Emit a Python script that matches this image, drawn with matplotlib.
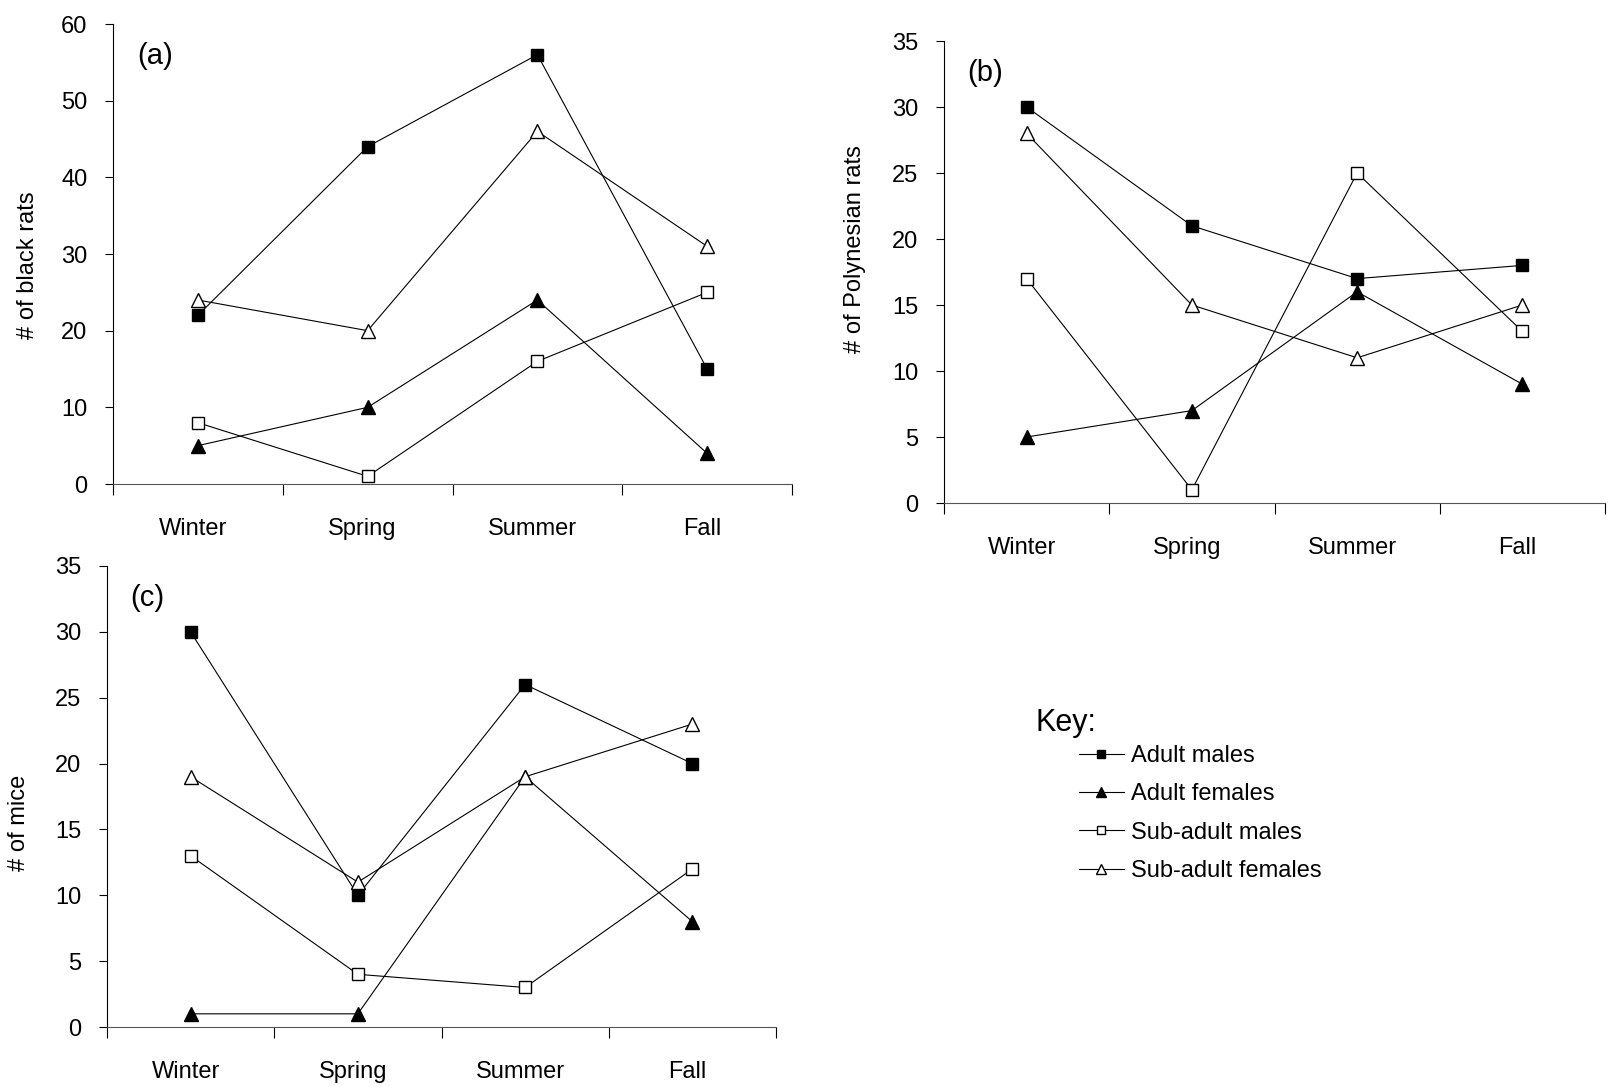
import numpy as np
import matplotlib
matplotlib.use('Agg')
from matplotlib import pyplot as plt
from matplotlib.lines import Line2D

plt.rcParams['font.family'] = ['Liberation Sans', 'DejaVu Sans']

# Data
seasons = ['Winter', 'Spring', 'Summer', 'Fall']
groups = ['Adult males', 'Adult females', 'Sub-adult males', 'Sub-adult females']

black_rats = {
    'Adult males': [22, 44, 56, 15],
    'Adult females': [5, 10, 24, 4],
    'Sub-adult males': [8, 1, 16, 25],
    'Sub-adult females': [24, 20, 46, 31],
}
poly_rats = {
    'Adult males': [30, 21, 17, 18],
    'Adult females': [5, 7, 16, 9],
    'Sub-adult males': [17, 1, 25, 13],
    'Sub-adult females': [28, 15, 11, 15],
}
mice = {
    'Adult males': [30, 10, 26, 20],
    'Adult females': [1, 1, 19, 8],
    'Sub-adult males': [13, 4, 3, 12],
    'Sub-adult females': [19, 11, 19, 23],
}

# Estilo dos marcadores
estilo = {
    'Adult males': dict(marker='s', mfc='black', ms=8.5),
    'Adult females': dict(marker='^', mfc='black', ms=9.5),
    'Sub-adult males': dict(marker='s', mfc='white', ms=8.5),
    'Sub-adult females': dict(marker='^', mfc='white', ms=9.5),
}

fig = plt.figure(figsize=(16.12, 10.87), dpi=100)
W, H = 1612.0, 1087.0


def painel(box, dados, ymax, ystep, letra):
    l, t, r, b = box
    ax = fig.add_axes([l / W, 1 - b / H, (r - l) / W, (b - t) / H])
    x = np.arange(len(seasons))
    for g in groups:
        ax.plot(x, dados[g], color='black', lw=0.8, mec='black', mew=1.0,
                zorder=3, clip_on=False, **estilo[g])
    ax.set_xlim(-0.5, len(seasons) - 0.5)
    ax.set_ylim(0, ymax)
    ax.set_yticks(np.arange(0, ymax + 1, ystep))
    ax.set_xticks(np.arange(-0.5, len(seasons)), [''] * (len(seasons) + 1))
    ax.set_xticks(x - 0.03, seasons, minor=True)
    ax.tick_params(axis='x', which='major', length=8, width=0.8, direction='out')
    ax.tick_params(axis='x', which='minor', length=0, pad=24.5, labelsize=17)
    ax.tick_params(axis='y', length=5.5, width=0.8, pad=13, labelsize=17)
    for s in ['top', 'right']:
        ax.spines[s].set_visible(False)
    ax.spines['left'].set_linewidth(0.8)
    ax.spines['bottom'].set_linewidth(0.8)
    ax.spines['bottom'].set_color('#555555')
    ax.text(0.035, 0.93, letra, transform=ax.transAxes, fontsize=21,
            ha='left', va='center')
    return ax


painel((113, 24, 792, 484), black_rats, 60, 10, '(a)')
painel((944, 41, 1605, 503), poly_rats, 35, 5, '(b)')
painel((107, 566, 776, 1027), mice, 35, 5, '(c)')

# Rotulos do eixo y
fig.text(28 / W, 1 - 265 / H, '# of black rats', rotation=90, ha='center', va='center', fontsize=17)
fig.text(855 / W, 1 - 249 / H, '# of Polynesian rats', rotation=90, ha='center', va='center', fontsize=17)
fig.text(19 / W, 1 - 823 / H, '# of mice', rotation=90, ha='center', va='center', fontsize=17)

# Legenda
fig.text(1035 / W, 1 - 723 / H, 'Key:', fontsize=22, ha='left', va='center')
handles = [Line2D([], [], color='black', lw=0.8, mec='black', mew=1.0, **estilo[g]) for g in groups]
fig.legend(handles, groups, loc='upper left', bbox_to_anchor=(1079 / W, 1 - 745 / H),
           frameon=False, fontsize=17, handlelength=1.9, handletextpad=0.3,
           labelspacing=0.69, borderpad=0, borderaxespad=0, markerscale=0.75)

fig.savefig('out.png', dpi=100)
